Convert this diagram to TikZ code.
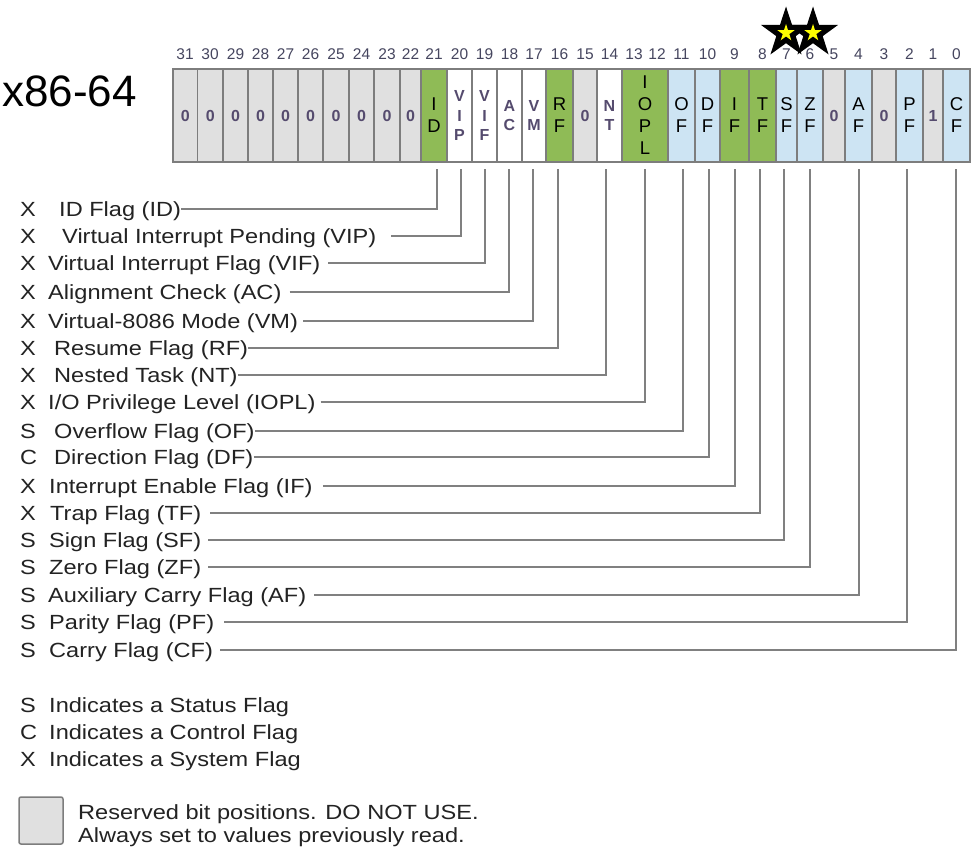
\documentclass[tikz,border=0pt]{standalone}
\usepackage{fontspec}
\setmainfont{Liberation Sans}
\newfontfamily\labfont{Liberation Sans}[FakeStretch=1.15]
\usetikzlibrary{shapes.geometric,calc}
\definecolor{flaggreen}{RGB}{143,187,86}
\definecolor{flagblue}{RGB}{205,228,243}
\definecolor{resgray}{RGB}{224,224,224}
\definecolor{cellborder}{RGB}{125,125,125}
\definecolor{linegray}{RGB}{128,128,128}
\definecolor{txtdark}{RGB}{35,35,35}
\definecolor{numcol}{RGB}{70,70,95}
\definecolor{smallcol}{RGB}{85,75,110}
\definecolor{staryellow}{RGB}{255,255,0}
\tikzset{
  cellbox/.style={draw=cellborder, line width=1.2, inner sep=0, outer sep=0, minimum height=93, align=center, text=black},
  bigtxt/.style={font=\fontsize{18.5}{22}\selectfont},
  smalltxt/.style={font=\fontsize{16}{19.5}\selectfont\bfseries, text=smallcol},
  bitnum/.style={font=\fontsize{15.5}{15.5}\selectfont, text=numcol, inner sep=0, anchor=base},
  lab/.style={font=\labfont\fontsize{20.5}{24}\selectfont, text=txtdark, inner sep=0, anchor=base west},
  conn/.style={draw=linegray, line width=1.3},
  bigstar/.style={star, star points=5, star point ratio=2.6, fill=black, minimum size=53, inner sep=0},
  smallstar/.style={star, star points=5, star point ratio=2.6, fill=staryellow, minimum size=18, inner sep=0},
}
% name, left, right, fill, style, text
\newcommand\regcell[6]{\node[cellbox, fill=#4, #5, minimum width={#3-#2}] (#1) at ({(#2+#3)/2},115.5) {#6};}
% name, letter, xtext, y, text, gap, xline
\newcommand\flagrow[7]{%
  \node[lab] (k#1) at (20,{#4+7}) {#2};
  \node[lab] (l#1) at (#3,{#4+7}) {#5};
  \coordinate (t#1) at (#7,169);
  \draw[conn] ($(l#1.base east)+(#6,-7)$) -| (t#1);
}
\begin{document}
\begin{tikzpicture}[x=1pt,y=-1pt]
\path[use as bounding box, fill=white] (0,0) rectangle (976,851);

% title
\node[font=\fontsize{44}{44}\selectfont, inner sep=0, anchor=base west] (title) at (2,106.7) {x86-64};

% register cells
\regcell{b31}{173}{197.5}{resgray}{smalltxt}{0}
\regcell{b30}{197.5}{223}{resgray}{smalltxt}{0}
\regcell{b29}{223}{248}{resgray}{smalltxt}{0}
\regcell{b28}{248}{273}{resgray}{smalltxt}{0}
\regcell{b27}{273}{298}{resgray}{smalltxt}{0}
\regcell{b26}{298}{323}{resgray}{smalltxt}{0}
\regcell{b25}{323}{349}{resgray}{smalltxt}{0}
\regcell{b24}{349}{374}{resgray}{smalltxt}{0}
\regcell{b23}{374}{400}{resgray}{smalltxt}{0}
\regcell{b22}{400}{421}{resgray}{smalltxt}{0}
\regcell{ID}{421}{447}{flaggreen}{bigtxt}{I\\D}
\regcell{VIP}{447}{472}{white}{smalltxt}{V\\I\\P}
\regcell{VIF}{472}{497}{white}{smalltxt}{V\\I\\F}
\regcell{AC}{497}{522}{white}{smalltxt}{A\\C}
\regcell{VM}{522}{546}{white}{smalltxt}{V\\M}
\regcell{RF}{546}{573}{flaggreen}{bigtxt}{R\\F}
\regcell{b15}{573}{597}{resgray}{smalltxt}{0}
\regcell{NT}{597}{622}{white}{smalltxt}{N\\T}
\regcell{IOPL}{622}{668}{flaggreen}{bigtxt}{I\\O\\P\\L}
\regcell{OF}{668}{695}{flagblue}{bigtxt}{O\\F}
\regcell{DF}{695}{720}{flagblue}{bigtxt}{D\\F}
\regcell{IF}{720}{749}{flaggreen}{bigtxt}{I\\F}
\regcell{TF}{749}{776}{flaggreen}{bigtxt}{T\\F}
\regcell{SF}{776}{797}{flagblue}{bigtxt}{S\\F}
\regcell{ZF}{797}{823}{flagblue}{bigtxt}{Z\\F}
\regcell{b5}{823}{845}{resgray}{smalltxt}{0}
\regcell{AF}{845}{872}{flagblue}{bigtxt}{A\\F}
\regcell{b3}{872}{896}{resgray}{smalltxt}{0}
\regcell{PF}{896}{923}{flagblue}{bigtxt}{P\\F}
\regcell{b1}{923}{943}{resgray}{smalltxt}{1}
\regcell{CF}{943}{970}{flagblue}{bigtxt}{C\\F}

% bit numbers
\foreach \n/\x in {31/185,30/210,29/235.5,28/260.5,27/285.5,26/310.5,25/336,24/361.5,23/387,22/410.5,21/434,20/459.5,19/484.5,18/509.5,17/534,16/559.5,15/585,14/609.5,13/634,12/657,11/681.5,10/707.5,9/734.5,8/762.5,7/786.5,6/810,5/834,4/858.5,3/884,2/909.5,1/933,0/956.5}
  \node[bitnum] (n\n) at (\x,59.5) {\n};

% stars
\node[bigstar] (st1) at (786,33) {};
\node[smallstar] (st1y) at (st1.center) {};
\node[bigstar] (st2) at (813,33) {};
\node[smallstar] (st2y) at (st2.center) {};

% flag descriptions and connectors
\flagrow{ID}{X}{59}{209}{ID Flag (ID)}{0}{437}
\flagrow{VIP}{X}{62}{236}{Virtual Interrupt Pending (VIP)}{15}{461}
\flagrow{VIF}{X}{48}{263}{Virtual Interrupt Flag (VIF)}{8}{485}
\flagrow{AC}{X}{48}{292}{Alignment Check (AC)}{8}{509}
\flagrow{VM}{X}{48}{321}{Virtual-8086 Mode (VM)}{5}{533}
\flagrow{RF}{X}{54}{348}{Resume Flag (RF)}{0}{558}
\flagrow{NT}{X}{54}{375}{Nested Task (NT)}{0}{606}
\flagrow{IOPL}{X}{48}{402}{I/O Privilege Level (IOPL)}{5}{645}
\flagrow{OF}{S}{54}{431}{Overflow Flag (OF)}{0}{683}
\flagrow{DF}{C}{54}{457}{Direction Flag (DF)}{0}{709}
\flagrow{IF}{X}{49}{486}{Interrupt Enable Flag (IF)}{10}{735}
\flagrow{TF}{X}{50}{513}{Trap Flag (TF)}{9}{760}
\flagrow{SF}{S}{49}{540}{Sign Flag (SF)}{7}{784}
\flagrow{ZF}{S}{49}{567}{Zero Flag (ZF)}{7}{810}
\flagrow{AF}{S}{48}{595}{Auxiliary Carry Flag (AF)}{8}{859}
\flagrow{PF}{S}{49}{622}{Parity Flag (PF)}{10}{907}
\flagrow{CF}{S}{49}{650}{Carry Flag (CF)}{7}{956}

% legend
\node[lab] (kS) at (20,712) {S};
\node[lab] (lS) at (49,712) {Indicates a Status Flag};
\node[lab] (kC) at (20,739) {C};
\node[lab] (lC) at (49,739) {Indicates a Control Flag};
\node[lab] (kX) at (20,766) {X};
\node[lab] (lX) at (49,766) {Indicates a System Flag};
\node[draw=cellborder, fill=resgray, line width=1.5, rounded corners=2, minimum width=44, minimum height=47, inner sep=0] (resbox) at (41,820.5) {};
\node[lab] (res1) at (78,819) {Reserved bit positions. DO NOT USE.};
\node[lab] (res2) at (78,842) {Always set to values previously read.};
\end{tikzpicture}
\end{document}
